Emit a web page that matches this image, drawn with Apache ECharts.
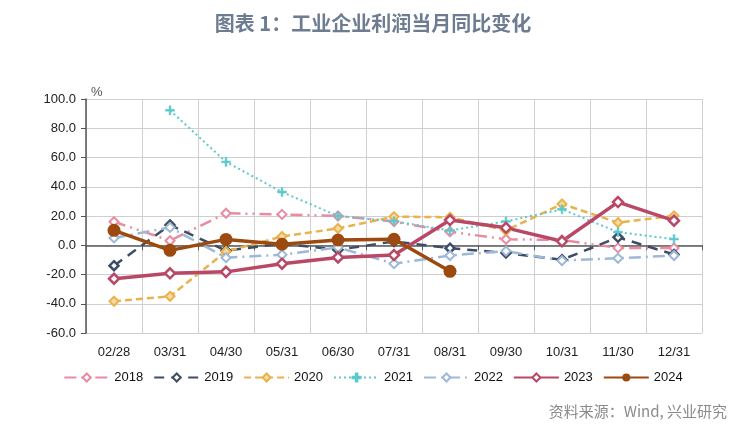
<!DOCTYPE html>
<html>
<head>
<meta charset="utf-8">
<style>
html,body{margin:0;padding:0;background:#fff;}
#c{width:746px;height:443px;}
</style>
<script src="https://cdn.jsdelivr.net/npm/echarts@6/dist/echarts.min.js"></script>
</head>
<body>
<div id="c"></div>
<script>
var categories = ['02/28','03/31','04/30','05/31','06/30','07/31','08/31','09/30','10/31','11/30','12/31'];
var yTicks = [-60, -40, -20, 0, 20, 40, 60, 80, 100];
var s2018 = [16.1, 3.1, 21.9, 21.1, 20.0, 16.2, 9.2, 4.1, 3.6, -1.8, -1.9];
var s2019 = [-14.0, 13.9, -3.7, 1.1, -3.1, 2.6, -2.0, -5.3, -9.9, 5.4, -6.3];
var s2020 = [-38.3, -34.9, -4.3, 6.0, 11.5, 19.6, 19.1, 10.1, 28.2, 15.5, 20.1];
var s2021 = [null, 92.3, 57.0, 36.4, 20.0, 16.4, 10.1, 16.3, 24.6, 9.0, 4.2];
var s2022 = [5.0, 12.2, -8.5, -6.5, -1.5, -12.6, -7.0, -4.0, -10.5, -8.9, -7.0];
var s2023 = [-22.9, -19.2, -18.2, -12.6, -8.3, -6.7, 17.2, 11.9, 2.7, 29.5, 16.8];
var s2024 = [10.2, -3.5, 4.0, 0.7, 3.6, 4.1, -17.8];
var seriesNames = ['2018','2019','2020','2021','2022','2023','2024'];

var chart = echarts.init(document.getElementById('c'));
var FONT = '"Liberation Sans", Arial, sans-serif';
var plus = 'path://M4,0H6V4H10V6H6V10H4V6H0V4H4Z';

function mk(name, data, color, type, width, symbol, size, fill, bw) {
  return {
    name: name, type: 'line', data: data, xAxisIndex: 0,
    symbol: symbol, symbolSize: size, showSymbol: true,
    lineStyle: {color: color, width: width, type: type},
    itemStyle: {color: fill, borderColor: color, borderWidth: bw},
    emphasis: {disabled: true}, animation: false, connectNulls: false
  };
}

var option = {
  backgroundColor: '#fff',
  animation: false,
  title: {
    text: '图表 1：工业企业利润当月同比变化',
    left: 'center', top: 8,
    textStyle: {fontFamily: '"Noto Sans CJK SC", sans-serif', fontSize: 20, fontWeight: 'bold', color: '#6E7C92'}
  },
  grid: {left: 86, right: 44, top: 99, bottom: 110},
  legend: {
    data: seriesNames, left: 'center', top: 366,
    itemWidth: 45, itemHeight: 10, itemGap: 10,
    textStyle: {fontFamily: FONT, fontSize: 13, color: '#111'}
  },
  xAxis: [{
    type: 'category', data: categories, boundaryGap: true,
    axisLine: {show: false, onZero: false},
    axisTick: {show: false},
    axisLabel: {fontFamily: FONT, fontSize: 13, color: '#222', margin: 13},
    splitLine: {show: true, lineStyle: {color: '#cfcfcf', width: 1}}
  }, {
    type: 'category', data: categories, boundaryGap: true, position: 'bottom',
    axisLine: {show: true, onZero: true, lineStyle: {color: '#5a5a5a', width: 1.5}},
    axisTick: {show: true, length: 5, lineStyle: {color: '#5a5a5a'}},
    axisLabel: {show: false},
    splitLine: {show: false}
  }],
  yAxis: {
    type: 'value', min: -60, max: 100, interval: 20,
    axisLine: {show: true, lineStyle: {color: '#555', width: 1.5}},
    axisTick: {show: true, length: 5, lineStyle: {color: '#555'}},
    axisLabel: {fontFamily: FONT, fontSize: 13, color: '#222', margin: 10,
      formatter: function (v) { return v.toFixed(1); }},
    splitLine: {show: true, lineStyle: {color: '#cfcfcf', width: 1}}
  },
  graphic: [{
    type: 'text', left: 91, top: 86,
    style: {text: '%', fontFamily: FONT, fontSize: 13, fill: '#555'}
  }, {
    type: 'text', right: 19, top: 404,
    style: {text: '资料来源：Wind, 兴业研究', fontFamily: '"Noto Sans CJK SC", sans-serif', fontSize: 15, fill: '#8a8a8a'}
  }],
  series: [
    mk('2018', s2018, '#E98CA2', [12,5,2,5,2,5], 2.5, 'diamond', 9, '#fff', 2),
    mk('2019', s2019, '#3E4D66', [10,7], 2.5, 'diamond', 9, '#fff', 2.5),
    mk('2020', s2020, '#E8B24E', [7,4], 2.5, 'diamond', 9, '#F6DBA0', 2),
    mk('2021', s2021, '#5CC9CC', [2,3], 2, plus, 9, '#5CC9CC', 0.5),
    mk('2022', s2022, '#9EB9D8', [12,5,2,5], 2.5, 'diamond', 9, '#fff', 2),
    mk('2023', s2023, '#B94866', 'solid', 3.5, 'diamond', 10, '#fff', 2.5),
    mk('2024', s2024, '#9C4A0F', 'solid', 3.5, 'circle', 13, '#9C4A0F', 0)
  ]
};
chart.setOption(option);
</script>
</body>
</html>
